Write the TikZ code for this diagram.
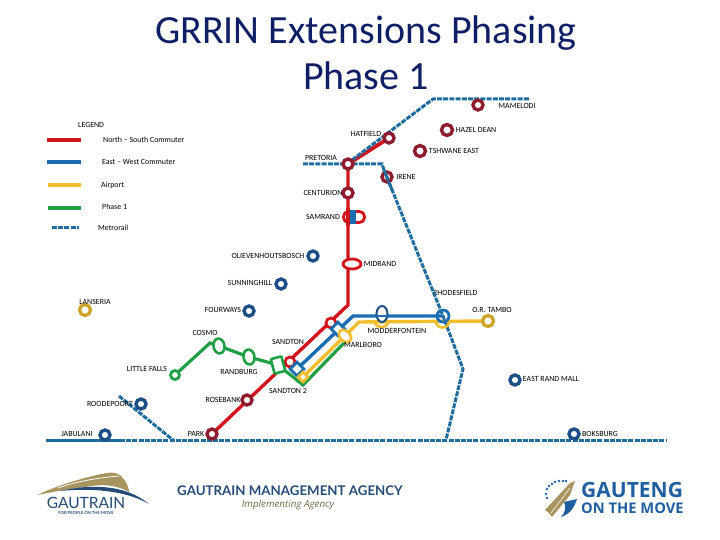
\documentclass[tikz,border=0pt]{standalone}
\usepackage{fontspec}
\setmainfont{Carlito}
\newfontfamily\logofont{Lato}
\newfontfamily\gautengfont{Open Sans}
\usetikzlibrary{backgrounds, shapes.geometric}
\definecolor{nsred}{HTML}{D2141C}
\definecolor{ewblue}{HTML}{1B6CB0}
\definecolor{airyellow}{HTML}{F2BE2E}
\definecolor{phasegreen}{HTML}{1FA044}
\definecolor{metroblue}{HTML}{1F6C9F}
\definecolor{titlenavy}{HTML}{0F1F66}
\definecolor{ringred}{HTML}{8E1C2E}
\definecolor{ringblue}{HTML}{1D4E85}
\definecolor{logogold}{HTML}{A8945F}
\definecolor{logonavy}{HTML}{254B78}
\definecolor{gautengblue}{HTML}{1F5FA0}
\tikzset{
  lbl/.style={font=\fontsize{7.9}{8}\selectfont, inner sep=0pt, text=black},
  legendlbl/.style={font=\fontsize{7.9}{8}\selectfont, inner sep=0pt, anchor=west},
  redstop/.style={circle, draw=ringred, fill=white, line width=3.4pt, minimum size=10pt, inner sep=0pt},
  bluestop/.style={circle, draw=ringblue, fill=white, line width=3.4pt, minimum size=10pt, inner sep=0pt},
  yellowstop/.style={circle, draw=airyellow!85!black, fill=white, line width=3.2pt, minimum size=11pt, inner sep=0pt},
  nsline/.style={nsred, line width=3.4pt},
  ewline/.style={ewblue, line width=3.4pt},
  airline/.style={airyellow, line width=3.4pt},
  greenline/.style={phasegreen, line width=3.2pt},
  metroline/.style={metroblue, line width=3pt, dash pattern=on 5pt off 1.2pt},
  waypt/.style={coordinate}
}
\begin{document}
\begin{tikzpicture}[x=1pt, y=-1pt]
  \useasboundingbox (0,0) rectangle (720,540);

  % --- 1. title ---
  \node[font=\fontsize{40}{46}\selectfont, text=titlenavy, align=center, inner sep=0pt] (title) at (366,53) {GRRIN Extensions Phasing\\Phase 1};

  % --- 2. legend ---
  \node[legendlbl] (legendhead) at (78,125) {LEGEND};
  \node[legendlbl] (legendns) at (103,140) {North -- South Commuter};
  \node[legendlbl] (legendew) at (102,162) {East -- West Commuter};
  \node[legendlbl] (legendair) at (101,185) {Airport};
  \node[legendlbl] (legendph) at (102,207) {Phase 1};
  \node[legendlbl] (legendmetro) at (98,228) {Metrorail};
  \draw[nsline] (47,140) -- (81,140);
  \draw[ewline] (47,162) -- (81,162);
  \draw[airline] (48,185) -- (81,185);
  \draw[greenline] (48,208) -- (81,208);
  \draw[metroline] (52,228) -- (79,228);

  % --- 3. stations ---
  \node[redstop] (mamelodi) at (478,105) {};
  \node[redstop, minimum size=11pt] (hazeldean) at (447,130) {};
  \node[redstop, minimum size=11pt] (tshwane) at (420,151) {};
  \node[redstop] (hatfield) at (389,138) {};
  \node[redstop] (pretoria) at (348,164) {};
  \node[redstop] (centurion) at (348,193) {};
  \node[bluestop] (olieven) at (313,256) {};
  \node[bluestop] (sunninghill) at (281,284) {};
  \node[bluestop] (fourways) at (249,311) {};
  \node[yellowstop] (lanseria) at (85,310) {};
  \node[bluestop] (roodepoort) at (141,404) {};
  \node[bluestop] (jabulani) at (105,435) {};
  \node[redstop] (rosebank) at (247,400) {};
  \node[redstop] (park) at (212,434) {};
  \node[bluestop] (eastrand) at (515,380) {};
  \node[bluestop] (boksburg) at (574,434) {};
  \node[yellowstop] (ortambo) at (488,321) {};
  \node[ellipse, draw=nsred, fill=white, line width=2.8pt, minimum width=18pt, minimum height=10pt, inner sep=0pt] (midrand) at (352,264) {};
  % samrand is a split stop, red either side of a blue bar
  \node[rectangle, rounded corners=5pt, draw=nsred, fill=white, line width=2.8pt, minimum width=21pt, minimum height=11pt, inner sep=0pt] (samrand) at (354,217) {};
  \node[fill=ewblue, minimum width=6pt, minimum height=14pt, inner sep=0pt] (samrandbar) at (353,217) {};
  \node[circle, draw=nsred, fill=white, line width=2.8pt, minimum size=10pt, inner sep=0pt] (sandton) at (290,362) {};
  \node[circle, draw=nsred, fill=white, line width=2.8pt, minimum size=10pt, inner sep=0pt] (marlred) at (331,323) {};
  \node[diamond, draw=ewblue, fill=white, line width=2.8pt, minimum size=15pt, inner sep=0pt] (sandtonblue) at (297,369) {};
  \node[diamond, draw=ewblue, fill=white, line width=2.8pt, minimum size=15pt, inner sep=0pt] (marlblue) at (338,329) {};
  \node[diamond, draw=airyellow, fill=white, line width=2.6pt, minimum size=11pt, inner sep=0pt] (sandtonyellow) at (303,377) {};
  \node[ellipse, rotate=-45, draw=airyellow, fill=white, line width=2.6pt, minimum width=14pt, minimum height=10pt, inner sep=0pt] (marlyellow) at (345,336) {};
  \node[ellipse, draw=ringblue, fill=white, line width=2pt, minimum width=11pt, minimum height=16pt, inner sep=0pt] (modderblue) at (382,314) {};
  \node[circle, draw=ewblue, line width=2.8pt, minimum size=12pt, inner sep=0pt] (rhodes) at (443,316) {};
  \node[circle, draw=phasegreen, fill=white, line width=2.8pt, minimum size=9pt, inner sep=0pt] (littlefalls) at (175,375) {};
  \node[ellipse, rotate=10, draw=phasegreen, fill=white, line width=2.6pt, minimum width=11pt, minimum height=15pt, inner sep=0pt] (cosmo) at (219,346) {};
  \node[ellipse, rotate=10, draw=phasegreen, fill=white, line width=2.6pt, minimum width=11pt, minimum height=15pt, inner sep=0pt] (randburg) at (249,357) {};
  \node[rectangle, rotate=15, rounded corners=1pt, draw=phasegreen, fill=white, line width=2.6pt, minimum width=11pt, minimum height=15pt, inner sep=0pt] (greensq) at (278,365) {};

  % --- 4. way points of the lines ---
  \node[waypt] (hatside) at (352,160) {};
  \node[waypt] (northbend) at (433,99) {};
  \node[waypt] (mamend) at (530,99) {};
  \node[waypt] (prewest) at (303,164) {};
  \node[waypt] (preeast) at (382,164) {};
  \node[waypt] (irenebend) at (384,170) {};
  \node[waypt] (eastbend) at (463,369) {};
  \node[waypt] (bottomjoin) at (446,440) {};
  \node[waypt] (bottomwest) at (46,440) {};
  \node[waypt] (bottomsolid) at (120,440) {};
  \node[waypt] (bottomeast) at (666,440) {};
  \node[waypt] (roodetop) at (119,396) {};
  \node[waypt] (roodejoin) at (173,440) {};
  \node[waypt] (redbend) at (348,305) {};
  \node[waypt] (bluebend) at (353,316) {};
  \node[waypt] (yellowbend) at (359,322) {};
  \node[waypt] (greenlow) at (303,385) {};
  \node[waypt] (greenend) at (345,342) {};
  \node[waypt] (cosmobend) at (210,343) {};

  % --- 5. lines, under the stations ---
  \begin{scope}[on background layer]
    \node[lbl, anchor=west] (lbrhodes) at (433,293) {RHODESFIELD};
    \draw[greenline] (littlefalls.center) -- (cosmobend) -- (cosmo.center) -- (randburg.center) -- (greensq.center) -- (greenlow) -- (greenend);
    \draw[airline] (sandtonyellow.center) -- (yellowbend) -- (ortambo.center);
    \draw[ewline] (sandtonblue.center) -- (bluebend) -- (rhodes.center);
    \draw[nsline] (pretoria.center) -- (redbend) -- (park.center);
    \draw[nsline, line width=3.8pt] (pretoria.center) -- (hatfield.center);
    \draw[metroline] (hatside) -- (northbend) -- (mamend);
    \draw[metroline] (prewest) -- (preeast) -- (irenebend) -- (rhodes.center) -- (eastbend) -- (bottomjoin);
    \draw[metroblue, line width=3pt] (bottomwest) -- (bottomsolid);
    \draw[metroline] (bottomsolid) -- (bottomeast);
    \draw[metroline] (roodetop) -- (roodejoin);
  \end{scope}
  % bits that sit on top of their stations
  \draw[nsline] (348,208) -- (348,226);
  \draw[airyellow, line width=2.6pt] (375,322) arc[start angle=180, end angle=360, x radius=6.5pt, y radius=5pt];
  \draw[airyellow, line width=2.6pt] (436,322) arc[start angle=180, end angle=360, x radius=6.5pt, y radius=5.5pt];
  \draw[ewline, line width=2.2pt] (376,316) -- (388,316);
  \node[redstop, fill=none] (irene) at (387,177) {};
  \draw[metroline] (irenebend) -- (392,190);

  % --- 6. labels ---
  \node[lbl] (lbmamelodi) at (517,106) {MAMELODI};
  \node[lbl] (lbhazel) at (476,130) {HAZEL DEAN};
  \node[lbl] (lbtshwane) at (454,151) {TSHWANE EAST};
  \node[lbl] (lbhatfield) at (366,134) {HATFIELD};
  \node[lbl] (lbpretoria) at (321,158) {PRETORIA};
  \node[lbl] (lbirene) at (406,177) {IRENE};
  \node[lbl] (lbcenturion) at (323,193) {CENTURION};
  \node[lbl] (lbsamrand) at (323,217) {SAMRAND};
  \node[lbl] (lbolieven) at (268,256) {OLIEVENHOUTSBOSCH};
  \node[lbl] (lbmidrand) at (380,264) {MIDRAND};
  \node[lbl] (lbsunning) at (250,283) {SUNNINGHILL};
  \node[lbl] (lbfourways) at (223,310) {FOURWAYS};
  \node[lbl] (lblanseria) at (95,302) {LANSERIA};
  \node[lbl] (lbortambo) at (492,310) {O.R. TAMBO};
  \node[lbl] (lbmodder) at (397,331) {MODDERFONTEIN};
  \node[lbl] (lbmarlboro) at (363,345) {MARLBORO};
  \node[lbl] (lbcosmo) at (205,333) {COSMO};
  \node[lbl] (lbsandton) at (288,342) {SANDTON};
  \node[lbl] (lbrandburg) at (239,372) {RANDBURG};
  \node[lbl] (lblittle) at (147,369) {LITTLE FALLS};
  \node[lbl] (lbsandton2) at (288,391) {SANDTON 2};
  \node[lbl] (lbrosebank) at (223,400) {ROSEBANK};
  \node[lbl] (lbroode) at (110,404) {ROODEPOORT};
  \node[lbl] (lbjabulani) at (77,434) {JABULANI};
  \node[lbl] (lbpark) at (196,434) {PARK};
  \node[lbl] (lbeastrand) at (551,379) {EAST RAND MALL};
  \node[lbl] (lbboksburg) at (600,434) {BOKSBURG};

  % --- 7. logos ---
  \fill[logogold] (37,495) .. controls (65,482) and (95,475) .. (107,473) .. controls (113,472) and (118,473) .. (121,476) .. controls (126,481) and (129,487) .. (129,492) .. controls (115,484) and (100,484) .. (85,487) .. controls (70,489) and (52,492) .. (37,495) -- cycle;
  \draw[white, line width=0.8pt] (58,488) .. controls (75,482) and (95,478) .. (119,476);
  \fill[logonavy] (60,491) .. controls (90,484) and (125,484) .. (149,504) .. controls (125,490) and (90,488) .. (60,491) -- cycle;
  \node[font=\logofont\fontsize{15.5}{16}\selectfont, text=logonavy, inner sep=0pt] (gautrainlogo) at (86,503) {GAUTRAIN};
  \node[font=\logofont\fontsize{4.2}{5}\selectfont\bfseries, text=logonavy, inner sep=0pt] (gautraintag) at (86,513) {FOR PEOPLE ON THE MOVE};
  \node[font=\logofont\fontsize{13.3}{14}\selectfont\bfseries, text=logonavy, inner sep=0pt] (gmalogo) at (290,491) {GAUTRAIN MANAGEMENT AGENCY};
  \node[font=\gautengfont\fontsize{9.8}{11}\selectfont\itshape, text=logogold!70!black, inner sep=0pt] (gmatag) at (288,505) {Implementing Agency};
  \node[font=\gautengfont\fontsize{21}{22}\selectfont\bfseries, text=gautengblue, inner sep=0pt, anchor=west] (gautenglogo) at (581,490) {GAUTENG};
  \node[font=\gautengfont\fontsize{14.7}{16}\selectfont\bfseries, text=gautengblue, inner sep=0pt, anchor=west] (gautengmove) at (581,508) {ON THE MOVE};
  \foreach \px/\py in {547/498,546/494,547/489,549/486,552/484,555/482,559/481,563/481,566/481}
    \fill[gautengblue] (\px,\py) circle (1.3pt);
  \fill[gautengblue] (561,517) .. controls (566,512) and (566,506) .. (564,502) -- (577,499) .. controls (574,508) and (570,514) .. (561,517) -- cycle;
  \fill[logogold] (545,510) -- (570,483) -- (575,481) -- (570,495) -- (552,517) -- (549,513) -- cycle;
  \draw[white, line width=0.6pt] (551,513) -- (570,488);
\end{tikzpicture}
\end{document}
